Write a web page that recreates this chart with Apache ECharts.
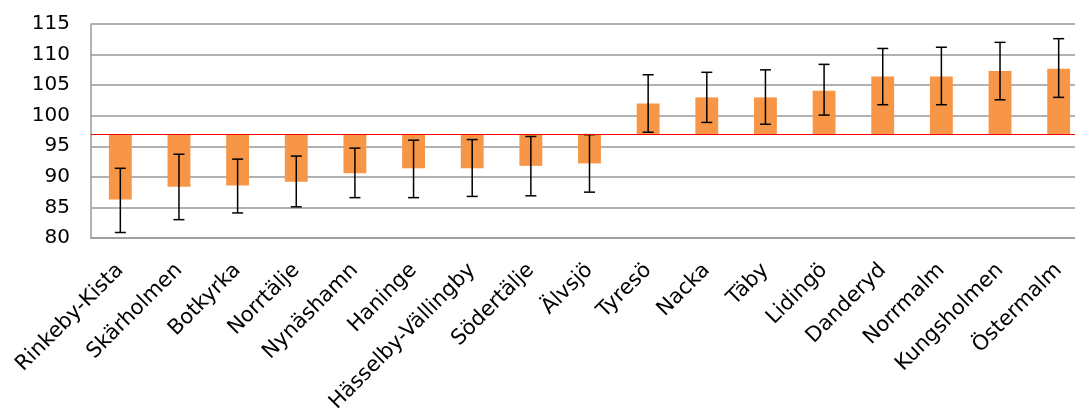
<!DOCTYPE html>
<html>
<head>
<meta charset="utf-8">
<script src="https://cdn.jsdelivr.net/npm/echarts@6/dist/echarts.min.js"></script>
<style>
  html, body { margin: 0; padding: 0; background: #fff; }
  #main { width: 1075px; height: 410px; }
</style>
</head>
<body>
<div id="main"></div>
<script>
var areas = ['Rinkeby-Kista', 'Skärholmen', 'Botkyrka', 'Norrtälje', 'Nynäshamn', 'Haninge',
  'Hässelby-Vällingby', 'Södertälje', 'Älvsjö', 'Tyresö', 'Nacka', 'Täby', 'Lidingö',
  'Danderyd', 'Norrmalm', 'Kungsholmen', 'Östermalm'];
var values = [86.3, 88.4, 88.6, 89.2, 90.6, 91.4, 91.4, 91.8, 92.2, 102.0, 103.0, 103.0, 104.1, 106.4, 106.4, 107.3, 107.7];
var lower = [80.9, 83.0, 84.1, 85.1, 86.6, 86.6, 86.8, 86.9, 87.5, 97.3, 98.9, 98.6, 100.1, 101.8, 101.8, 102.6, 103.0];
var upper = [91.4, 93.7, 92.9, 93.4, 94.7, 96.0, 96.1, 96.6, 96.9, 106.7, 107.1, 107.5, 108.4, 111.0, 111.2, 112.0, 112.6];
var baseline = 97;

var chartDom = document.getElementById('main');
var myChart = echarts.init(chartDom, null, { renderer: 'canvas' });

var barData = values.map(function (v, i) { return [i, v]; });
var errData = values.map(function (v, i) { return [i, lower[i], upper[i]]; });

// plot area runs past the right edge of the picture, as in the original
var option = {
  animation: false,
  grid: { left: 91, top: 24, width: 997, height: 214, containLabel: false, outerBoundsMode: 'none' },
  xAxis: {
    type: 'category',
    data: areas,
    axisLine: { lineStyle: { color: '#999', width: 1.5 } },
    axisTick: { show: false },
    axisLabel: {
      interval: 0,
      rotate: 45,
      margin: 29,
      color: '#000',
      fontFamily: 'DejaVu Sans',
      fontSize: 21
    }
  },
  yAxis: {
    type: 'value',
    min: 80,
    max: 115,
    interval: 5,
    axisLine: { show: true, lineStyle: { color: '#999', width: 1.5 } },
    axisTick: { show: false },
    axisLabel: {
      margin: 21,
      color: '#000',
      fontFamily: 'DejaVu Sans',
      fontSize: 20
    },
    splitLine: { lineStyle: { color: '#999', width: 1.5 } }
  },
  series: [
    {
      type: 'custom',
      data: barData,
      renderItem: function (params, api) {
        var idx = api.value(0);
        var top = api.coord([idx, api.value(1)]);
        var base = api.coord([idx, baseline]);
        var w = api.size([1, 0])[0] * 0.39;
        var y0 = Math.min(top[1], base[1]);
        var h = Math.abs(top[1] - base[1]);
        return {
          type: 'rect',
          shape: { x: top[0] - w / 2, y: y0, width: w, height: h },
          style: { fill: '#F79646' }
        };
      },
      markLine: {
        silent: true,
        symbol: 'none',
        label: { show: false },
        lineStyle: { color: '#ff0000', width: 1.2, type: 'solid' },
        data: [{ yAxis: baseline }]
      },
      z: 2
    },
    {
      type: 'custom',
      data: errData,
      renderItem: function (params, api) {
        var idx = api.value(0);
        var lo = api.coord([idx, api.value(1)]);
        var hi = api.coord([idx, api.value(2)]);
        var cap = 5.5;
        var st = { stroke: '#000', lineWidth: 1.5 };
        return {
          type: 'group',
          children: [
            { type: 'line', shape: { x1: lo[0], y1: lo[1], x2: hi[0], y2: hi[1] }, style: st },
            { type: 'line', shape: { x1: hi[0] - cap, y1: hi[1], x2: hi[0] + cap, y2: hi[1] }, style: st },
            { type: 'line', shape: { x1: lo[0] - cap, y1: lo[1], x2: lo[0] + cap, y2: lo[1] }, style: st }
          ]
        };
      },
      z: 3
    }
  ]
};

myChart.setOption(option);
</script>
</body>
</html>
